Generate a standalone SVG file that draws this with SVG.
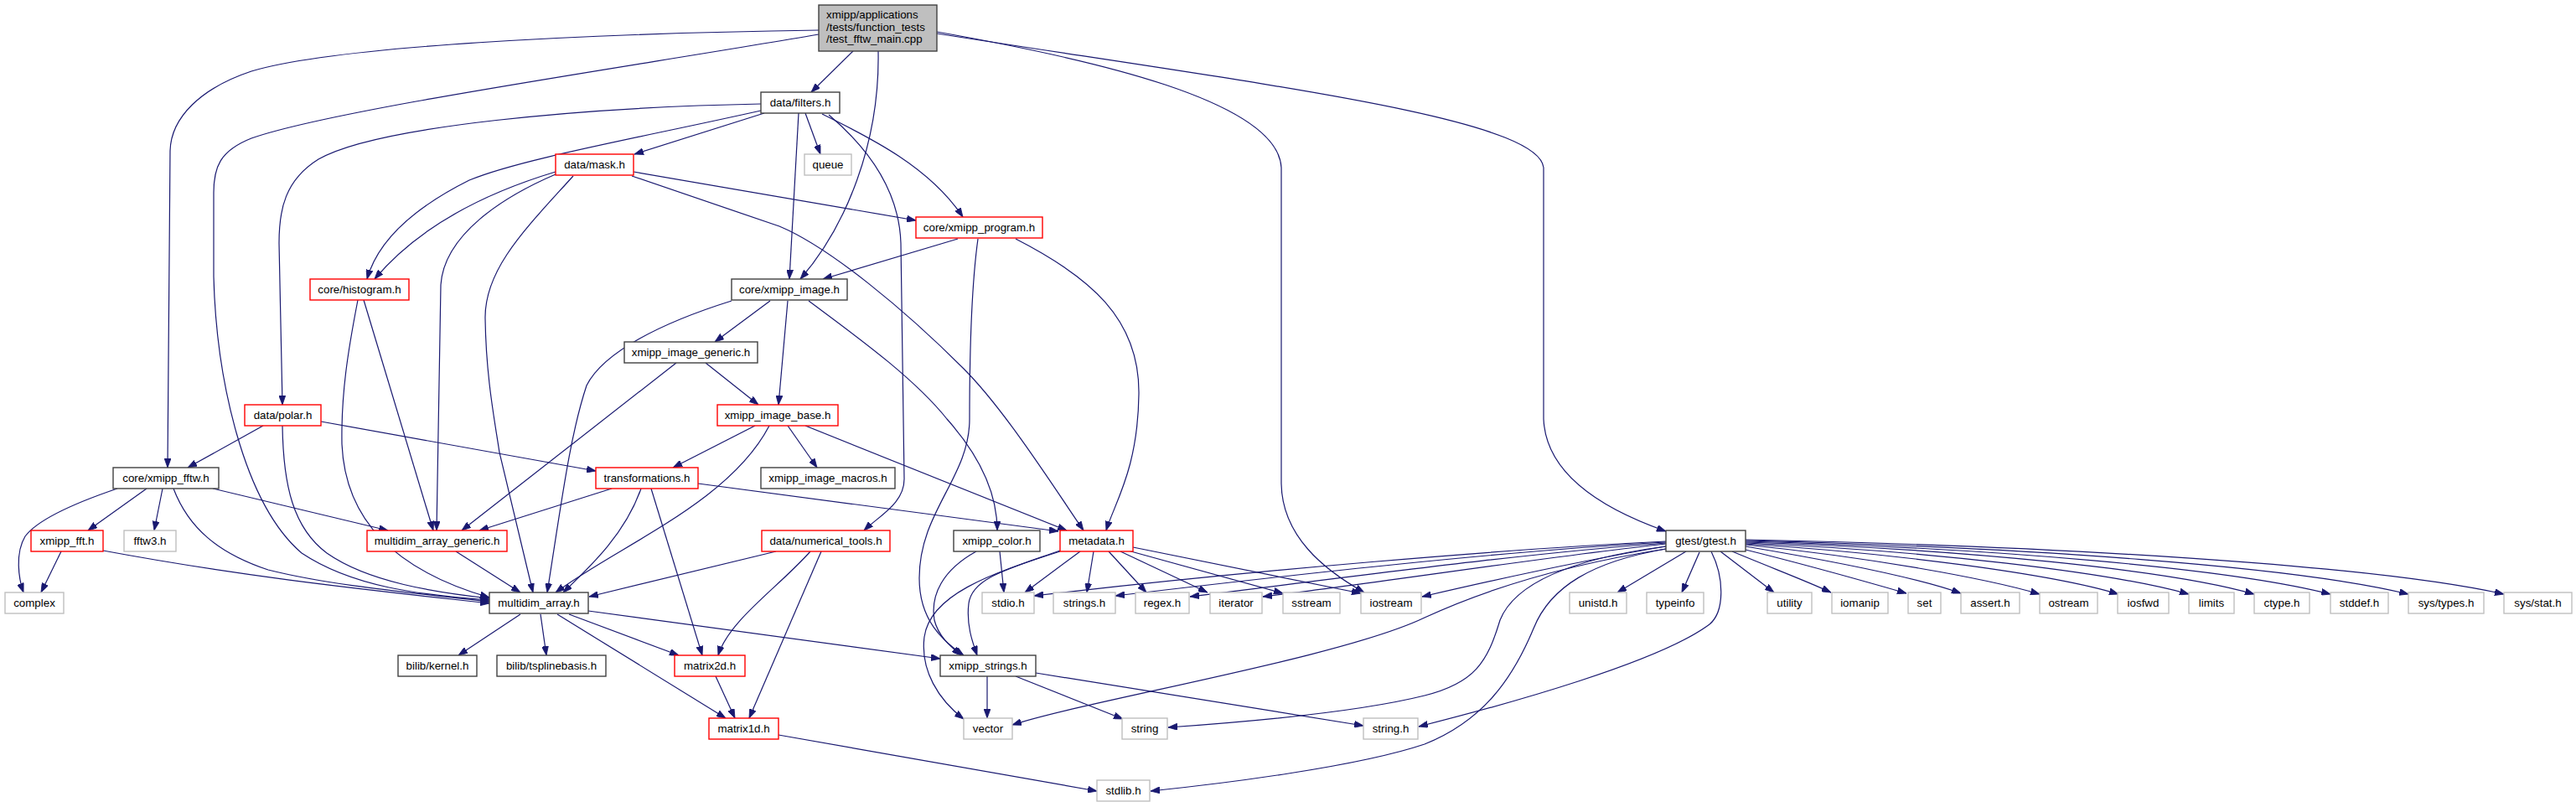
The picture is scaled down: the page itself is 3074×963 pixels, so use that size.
<svg xmlns="http://www.w3.org/2000/svg" width="3074" height="963" viewBox="0 0 3074 963">
<style>
.n rect{fill:#fff;stroke:#404040;stroke-width:1.4}
.n.r rect{stroke:#ff0000}
.n.g rect{stroke:#bfbfbf}
text{font-family:"Liberation Sans",Arial,Helvetica,sans-serif;font-size:13.33px;fill:#000;text-anchor:middle}
#edges path{fill:none;stroke:#191970;stroke-width:1.2;marker-end:url(#a)}
</style>
<defs>
<marker id="a" viewBox="0 0 11 8" refX="11" refY="4" markerWidth="11" markerHeight="8" markerUnits="userSpaceOnUse" orient="auto">
<path d="M0,0 L11,4 L0,8 z" fill="#191970" stroke="#191970" stroke-width="0.8"/>
</marker>
</defs>
<rect x="0" y="0" width="3074" height="963" fill="#fff"/>
<g id="edges">
<path d="M1018,61 L968,110"/>
<path d="M1048,61 C1050,170 1010,270 955,333"/>
<path d="M977,36 C700,40 400,55 300,85 C240,105 204,140 203,180 L200,558"/>
<path d="M977,41 C750,80 400,130 300,165 C262,180 255,200 255,230 L255,330 C258,450 290,600 360,660 C420,700 500,710 584,716"/>
<path d="M1118,38 C1300,70 1525,120 1529,200 L1529,577 C1530,640 1580,680 1628,707"/>
<path d="M1118,40 C1500,100 1835,140 1842,200 L1842,500 C1845,570 1920,610 1988,634"/>
<path d="M908,124 C700,128 450,150 380,190 C340,215 333,250 333,290 L337,483"/>
<path d="M908,132 C760,165 620,190 560,215 C490,250 450,290 438,333"/>
<path d="M912,135 L757,184"/>
<path d="M953,135 L942,333"/>
<path d="M961,135 L979,184"/>
<path d="M981,136 C1040,165 1110,200 1149,259"/>
<path d="M989,137 C1040,180 1073,230 1075,290 L1079,570 C1080,600 1050,615 1031,633"/>
<path d="M663,205 C580,230 500,270 447,333"/>
<path d="M663,208 C600,235 530,280 526,340 L521,633"/>
<path d="M684,210 C630,270 578,320 579,380 C580,450 590,500 596,540 L636,707"/>
<path d="M754,210 L930,270 C990,295 1080,370 1150,440 C1200,490 1260,585 1293,633"/>
<path d="M756,205 L1093,263"/>
<path d="M1143,285 L982,333"/>
<path d="M1167,285 C1158,350 1157,430 1157,500 C1157,570 1097,610 1097,690 C1097,740 1125,765 1150,782"/>
<path d="M1212,285 C1300,330 1360,380 1359,470 C1358,560 1330,600 1320,633"/>
<path d="M427,358 C415,420 407,470 408,530 C412,620 470,680 584,713"/>
<path d="M434,358 L517,633"/>
<path d="M873,359 C790,385 720,420 700,460 C680,520 670,600 653,707"/>
<path d="M919,359 L853,408"/>
<path d="M940,359 L929,483"/>
<path d="M965,359 C1020,400 1090,450 1130,500 C1170,545 1190,590 1190,633"/>
<path d="M842,433 L905,483"/>
<path d="M807,433 L551,633"/>
<path d="M314,508 L224,558"/>
<path d="M337,508 C338,580 350,630 390,660 C440,695 520,707 584,714"/>
<path d="M383,503 L711,562"/>
<path d="M901,508 L803,558"/>
<path d="M918,508 C870,600 740,650 663,707"/>
<path d="M940,508 L975,558"/>
<path d="M961,508 L1273,633"/>
<path d="M730,583 L572,633"/>
<path d="M765,583 C745,640 700,680 672,707"/>
<path d="M777,583 L838,782"/>
<path d="M833,577 L1263,634"/>
<path d="M140,583 C90,600 45,620 30,640 C18,660 22,690 28,707"/>
<path d="M175,583 L105,633"/>
<path d="M194,583 L184,633"/>
<path d="M207,583 C225,630 260,660 320,680 C400,700 500,708 584,718"/>
<path d="M254,583 L463,633"/>
<path d="M73,658 L49,707"/>
<path d="M123,657 C300,690 450,705 584,720"/>
<path d="M544,658 L621,707"/>
<path d="M926,658 L703,712"/>
<path d="M967,658 C930,700 870,740 857,782"/>
<path d="M980,658 L894,857"/>
<path d="M621,733 L547,782"/>
<path d="M645,733 L652,782"/>
<path d="M679,733 L810,782"/>
<path d="M665,733 L866,857"/>
<path d="M702,729 L1122,786"/>
<path d="M854,807 L877,857"/>
<path d="M929,877 L1309,944"/>
<path d="M1193,658 L1198,707"/>
<path d="M1165,658 C1125,680 1110,710 1115,740 C1120,760 1135,772 1147,782"/>
<path d="M1289,658 L1223,707"/>
<path d="M1305,658 L1297,707"/>
<path d="M1323,658 L1368,707"/>
<path d="M1337,658 L1441,707"/>
<path d="M1346,657 L1531,708"/>
<path d="M1352,653 L1624,708"/>
<path d="M1265,657 C1200,680 1160,690 1156,720 C1153,745 1160,765 1166,782"/>
<path d="M1265,658 C1180,685 1110,710 1103,760 C1098,800 1120,835 1150,858"/>
<path d="M1178,807 L1178,857"/>
<path d="M1212,807 L1340,858"/>
<path d="M1236,803 L1627,866"/>
<path d="M1988,646 C1800,655 1500,680 1234,711"/>
<path d="M1988,647 C1800,657 1550,685 1331,711"/>
<path d="M1988,648 C1820,660 1600,690 1420,712"/>
<path d="M1988,649 C1840,665 1650,695 1507,712"/>
<path d="M1988,652 C1880,670 1770,695 1697,712"/>
<path d="M1988,655 C1880,672 1780,700 1700,737 C1600,785 1300,835 1208,865"/>
<path d="M1988,652 C1890,665 1810,690 1790,740 C1775,790 1760,815 1700,830 C1620,850 1480,862 1394,868"/>
<path d="M2042,658 C2058,690 2058,730 2040,745 C1980,790 1800,840 1693,867"/>
<path d="M1988,655 C1900,670 1850,700 1830,750 C1805,810 1770,860 1700,888 C1620,915 1460,935 1373,944"/>
<path d="M2012,658 L1930,707"/>
<path d="M2028,659 L2007,707"/>
<path d="M2053,658 L2117,707"/>
<path d="M2067,658 C2120,680 2160,695 2185,707"/>
<path d="M2079,655 C2160,675 2230,695 2275,708"/>
<path d="M2083,652 C2190,670 2290,690 2340,708"/>
<path d="M2083,650 C2230,665 2370,690 2434,709"/>
<path d="M2083,649 C2260,660 2450,685 2528,709"/>
<path d="M2083,648 C2300,657 2520,683 2612,709"/>
<path d="M2083,647 C2340,655 2590,680 2690,709"/>
<path d="M2083,646 C2380,654 2660,678 2781,709"/>
<path d="M2083,645 C2420,653 2740,676 2874,709"/>
<path d="M2083,644 C2460,652 2830,674 2988,709"/>
</g>
<g id="n_root" class="n"><rect x="977" y="6" width="141" height="55" style="fill:#bfbfbf"/><text x="986" y="22" style="text-anchor:start">xmipp/applications</text><text x="986" y="37" style="text-anchor:start">/tests/function_tests</text><text x="986" y="51" style="text-anchor:start">/test_fftw_main.cpp</text></g>
<g id="n_filters" class="n"><rect x="908" y="110" width="94" height="25"/><text x="955" y="127">data/filters.h</text></g>
<g id="n_queue" class="n g"><rect x="960" y="184" width="56" height="25"/><text x="988" y="201">queue</text></g>
<g id="n_mask" class="n r"><rect x="663" y="184" width="93" height="25"/><text x="709.5" y="201">data/mask.h</text></g>
<g id="n_program" class="n r"><rect x="1093" y="259" width="151" height="25"/><text x="1168.5" y="276">core/xmipp_program.h</text></g>
<g id="n_histogram" class="n r"><rect x="370" y="333" width="118" height="25"/><text x="429" y="350">core/histogram.h</text></g>
<g id="n_image" class="n"><rect x="873" y="333" width="138" height="25"/><text x="942" y="350">core/xmipp_image.h</text></g>
<g id="n_generic" class="n"><rect x="745" y="408" width="159" height="25"/><text x="824.5" y="425">xmipp_image_generic.h</text></g>
<g id="n_polar" class="n r"><rect x="292" y="483" width="91" height="25"/><text x="337.5" y="500">data/polar.h</text></g>
<g id="n_base" class="n r"><rect x="856" y="483" width="144" height="25"/><text x="928" y="500">xmipp_image_base.h</text></g>
<g id="n_fftw" class="n"><rect x="135" y="558" width="126" height="25"/><text x="198" y="575">core/xmipp_fftw.h</text></g>
<g id="n_transf" class="n r"><rect x="711" y="558" width="122" height="25"/><text x="772" y="575">transformations.h</text></g>
<g id="n_macros" class="n"><rect x="908" y="558" width="160" height="25"/><text x="988" y="575">xmipp_image_macros.h</text></g>
<g id="n_fft" class="n r"><rect x="37" y="633" width="86" height="25"/><text x="80" y="650">xmipp_fft.h</text></g>
<g id="n_fftw3" class="n g"><rect x="148" y="633" width="62" height="25"/><text x="179" y="650">fftw3.h</text></g>
<g id="n_mag" class="n r"><rect x="438" y="633" width="167" height="25"/><text x="521.5" y="650">multidim_array_generic.h</text></g>
<g id="n_numtools" class="n r"><rect x="909" y="633" width="153" height="25"/><text x="985.5" y="650">data/numerical_tools.h</text></g>
<g id="n_color" class="n"><rect x="1138" y="633" width="103" height="25"/><text x="1189.5" y="650">xmipp_color.h</text></g>
<g id="n_metadata" class="n r"><rect x="1265" y="633" width="87" height="25"/><text x="1308.5" y="650">metadata.h</text></g>
<g id="n_gtest" class="n"><rect x="1988" y="633" width="95" height="25"/><text x="2035.5" y="650">gtest/gtest.h</text></g>
<g id="n_complex" class="n g"><rect x="6" y="707" width="70" height="25"/><text x="41" y="724">complex</text></g>
<g id="n_ma" class="n"><rect x="584" y="707" width="118" height="25"/><text x="643" y="724">multidim_array.h</text></g>
<g id="n_stdio" class="n g"><rect x="1172" y="707" width="62" height="25"/><text x="1203" y="724">stdio.h</text></g>
<g id="n_strings" class="n g"><rect x="1257" y="707" width="74" height="25"/><text x="1294" y="724">strings.h</text></g>
<g id="n_regex" class="n g"><rect x="1355" y="707" width="64" height="25"/><text x="1387" y="724">regex.h</text></g>
<g id="n_iterator" class="n g"><rect x="1444" y="707" width="62" height="25"/><text x="1475" y="724">iterator</text></g>
<g id="n_sstream" class="n g"><rect x="1531" y="707" width="68" height="25"/><text x="1565" y="724">sstream</text></g>
<g id="n_iostream" class="n g"><rect x="1624" y="707" width="72" height="25"/><text x="1660" y="724">iostream</text></g>
<g id="n_unistd" class="n g"><rect x="1873" y="707" width="68" height="25"/><text x="1907" y="724">unistd.h</text></g>
<g id="n_typeinfo" class="n g"><rect x="1965" y="707" width="68" height="25"/><text x="1999" y="724">typeinfo</text></g>
<g id="n_utility" class="n g"><rect x="2109" y="707" width="53" height="25"/><text x="2135.5" y="724">utility</text></g>
<g id="n_iomanip" class="n g"><rect x="2186" y="707" width="67" height="25"/><text x="2219.5" y="724">iomanip</text></g>
<g id="n_set" class="n g"><rect x="2277" y="707" width="39" height="25"/><text x="2296.5" y="724">set</text></g>
<g id="n_assert" class="n g"><rect x="2340" y="707" width="70" height="25"/><text x="2375" y="724">assert.h</text></g>
<g id="n_ostream" class="n g"><rect x="2434" y="707" width="69" height="25"/><text x="2468.5" y="724">ostream</text></g>
<g id="n_iosfwd" class="n g"><rect x="2527" y="707" width="61" height="25"/><text x="2557.5" y="724">iosfwd</text></g>
<g id="n_limits" class="n g"><rect x="2612" y="707" width="54" height="25"/><text x="2639" y="724">limits</text></g>
<g id="n_ctype" class="n g"><rect x="2690" y="707" width="66" height="25"/><text x="2723" y="724">ctype.h</text></g>
<g id="n_stddef" class="n g"><rect x="2781" y="707" width="69" height="25"/><text x="2815.5" y="724">stddef.h</text></g>
<g id="n_systypes" class="n g"><rect x="2874" y="707" width="90" height="25"/><text x="2919" y="724">sys/types.h</text></g>
<g id="n_sysstat" class="n g"><rect x="2988" y="707" width="81" height="25"/><text x="3028.5" y="724">sys/stat.h</text></g>
<g id="n_kernel" class="n"><rect x="475" y="782" width="94" height="25"/><text x="522" y="799">bilib/kernel.h</text></g>
<g id="n_tspline" class="n"><rect x="593" y="782" width="130" height="25"/><text x="658" y="799">bilib/tsplinebasis.h</text></g>
<g id="n_matrix2d" class="n r"><rect x="805" y="782" width="84" height="25"/><text x="847" y="799">matrix2d.h</text></g>
<g id="n_xstrings" class="n"><rect x="1122" y="782" width="114" height="25"/><text x="1179" y="799">xmipp_strings.h</text></g>
<g id="n_matrix1d" class="n r"><rect x="846" y="857" width="83" height="25"/><text x="887.5" y="874">matrix1d.h</text></g>
<g id="n_vector" class="n g"><rect x="1150" y="857" width="58" height="25"/><text x="1179" y="874">vector</text></g>
<g id="n_string" class="n g"><rect x="1339" y="857" width="54" height="25"/><text x="1366" y="874">string</text></g>
<g id="n_stringh" class="n g"><rect x="1627" y="857" width="65" height="25"/><text x="1659.5" y="874">string.h</text></g>
<g id="n_stdlib" class="n g"><rect x="1309" y="931" width="63" height="25"/><text x="1340.5" y="948">stdlib.h</text></g>
</svg>
